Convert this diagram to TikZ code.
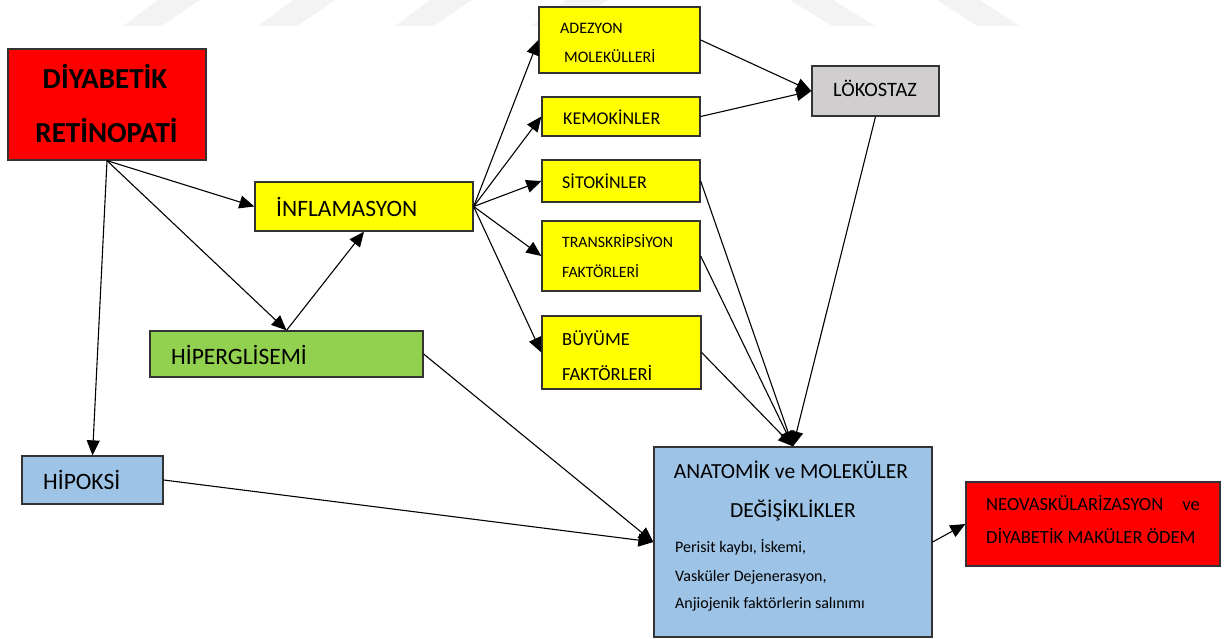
\documentclass[tikz,border=0pt]{standalone}
\usepackage{fontspec}
\setmainfont{Carlito}
\usetikzlibrary{arrows.meta,calc}
\definecolor{cred}{HTML}{FF0000}
\definecolor{cyel}{HTML}{FFFF00}
\definecolor{cgreen}{HTML}{92D050}
\definecolor{cblue}{HTML}{9DC3E6}
\definecolor{cgray}{HTML}{D0CECE}
\definecolor{wm}{HTML}{F3F3F3}
\tikzset{
  box/.style={draw=black!80, line width=1.3pt, rectangle, inner sep=0pt},
  arr/.style={line width=1.1pt, -{Triangle[length=15pt,width=13pt]}},
  lbl/.style={anchor=base west, inner sep=0pt},
  clbl/.style={anchor=base, inner sep=0pt},
  fA/.style={font=\fontsize{23.5}{27}\selectfont},
  fB/.style={font=\fontsize{18}{22}\selectfont},
  fC/.style={font=\fontsize{16}{19}\selectfont},
  fD/.style={font=\fontsize{15.8}{19}\selectfont},
}
\begin{document}
\begin{tikzpicture}[x=1pt,y=-1pt]
\useasboundingbox (0,0) rectangle (1224,638);
% watermark
\fill[wm] (123,26) -- (162,26) -- (200,0) -- (158,0) -- cycle;
\fill[wm] (258,26) -- (297,26) -- (335,0) -- (293,0) -- cycle;
\fill[wm] (395,26) -- (434,26) -- (472,0) -- (430,0) -- cycle;
\fill[wm] (531,26) -- (570,26) -- (608,0) -- (566,0) -- cycle;
\fill[wm] (790,0) -- (833,0) -- (875,26) -- (832,26) -- cycle;
\fill[wm] (937,0) -- (980,0) -- (1020,26) -- (977,26) -- cycle;
% boxes
\node[box, fill=cred, minimum width=198pt, minimum height=111pt] (dr) at (107,104.5) {};
\node[box, fill=cyel, minimum width=218pt, minimum height=49pt] (infl) at (364,206.5) {};
\node[box, fill=cgreen, minimum width=273pt, minimum height=46pt] (hiper) at (286.5,354) {};
\node[box, fill=cblue, minimum width=141pt, minimum height=48pt] (hipoksi) at (92.5,480) {};
\node[box, fill=cyel, minimum width=161pt, minimum height=66pt] (adez) at (619.5,40) {};
\node[box, fill=cyel, minimum width=158pt, minimum height=39pt] (kemo) at (621,116.5) {};
\node[box, fill=cyel, minimum width=158pt, minimum height=42pt] (sito) at (621,181) {};
\node[box, fill=cyel, minimum width=158pt, minimum height=70pt] (trans) at (621,256) {};
\node[box, fill=cyel, minimum width=159pt, minimum height=73pt] (buyume) at (621.5,352.5) {};
\node[box, fill=cgray, minimum width=127pt, minimum height=50pt] (loko) at (875.5,91) {};
\node[box, fill=cblue, minimum width=278pt, minimum height=190pt] (anat) at (793,542) {};
\node[box, fill=cred, minimum width=254pt, minimum height=84pt] (neo) at (1093,524) {};
% texts
\node[clbl, font=\fontsize{29}{33}\selectfont\bfseries] (t1) at (105,88) {DİYABETİK};
\node[clbl, font=\fontsize{29}{33}\selectfont\bfseries] (t2) at (106.5,142) {RETİNOPATİ};
\node[lbl, fA] (t3) at (276,216) {İNFLAMASYON};
\node[lbl, fA] (t4) at (171,364) {HİPERGLİSEMİ};
\node[lbl, fA] (t5) at (43,489) {HİPOKSİ};
\node[lbl, fC] (t6) at (560,33) {ADEZYON};
\node[lbl, fC] (t7) at (564,62) {MOLEKÜLLERİ};
\node[lbl, fB] (t8) at (563,124) {KEMOKİNLER};
\node[lbl, fB] (t9) at (562,188) {SİTOKİNLER};
\node[lbl, fD] (t10) at (562,247) {TRANSKRİPSİYON};
\node[lbl, fD] (t11) at (562,277) {FAKTÖRLERİ};
\node[lbl, font=\fontsize{18.5}{22}\selectfont] (t12) at (562,345) {BÜYÜME};
\node[lbl, font=\fontsize{18.5}{22}\selectfont] (t13) at (562,380) {FAKTÖRLERİ};
\node[lbl, font=\fontsize{20.4}{24}\selectfont] (t14) at (833,96) {LÖKOSTAZ};
\node[clbl, font=\fontsize{21.5}{25}\selectfont] (t15) at (791,478) {ANATOMİK ve MOLEKÜLER};
\node[clbl, font=\fontsize{21.5}{25}\selectfont] (t16) at (793,517) {DEĞİŞİKLİKLER};
\node[lbl, font=\fontsize{16}{19}\selectfont] (t17) at (675,552) {Perisit kaybı, İskemi,};
\node[lbl, font=\fontsize{16}{19}\selectfont] (t18) at (675,581) {Vasküler Dejenerasyon,};
\node[lbl, font=\fontsize{16}{19}\selectfont] (t19) at (675,608) {Anjiojenik faktörlerin salınımı};
\node[lbl, font=\fontsize{18.6}{22}\selectfont] (t20) at (986,510) {NEOVASKÜLARİZASYON\hspace{19pt}ve};
\node[lbl, font=\fontsize{18.6}{22}\selectfont] (t21) at (986,543) {DİYABETİK MAKÜLER ÖDEM};
% connectors
\draw[arr] (dr.south) -- (infl.west);
\draw[arr] (dr.south) -- (hiper.north);
\draw[arr] (dr.south) -- (hipoksi.north);
\draw[arr] (hiper.north) -- (infl.south);
\draw[arr] (infl.east) -- (adez.west);
\draw[arr] (infl.east) -- (kemo.west);
\draw[arr] (infl.east) -- (sito.west);
\draw[arr] (infl.east) -- (trans.west);
\draw[arr] (infl.east) -- (buyume.west);
\draw[arr] (adez.east) -- (loko.west);
\draw[arr] (kemo.east) -- (loko.west);
\draw[arr] (sito.east) -- (anat.north);
\draw[arr] (trans.east) -- (anat.north);
\draw[arr] (buyume.east) -- (anat.north);
\draw[arr] (loko.south) -- (anat.north);
\draw[arr] (hiper.east) -- (anat.west);
\draw[arr] (hipoksi.east) -- (anat.west);
\draw[arr] (anat.east) -- (neo.west);
\end{tikzpicture}
\end{document}
